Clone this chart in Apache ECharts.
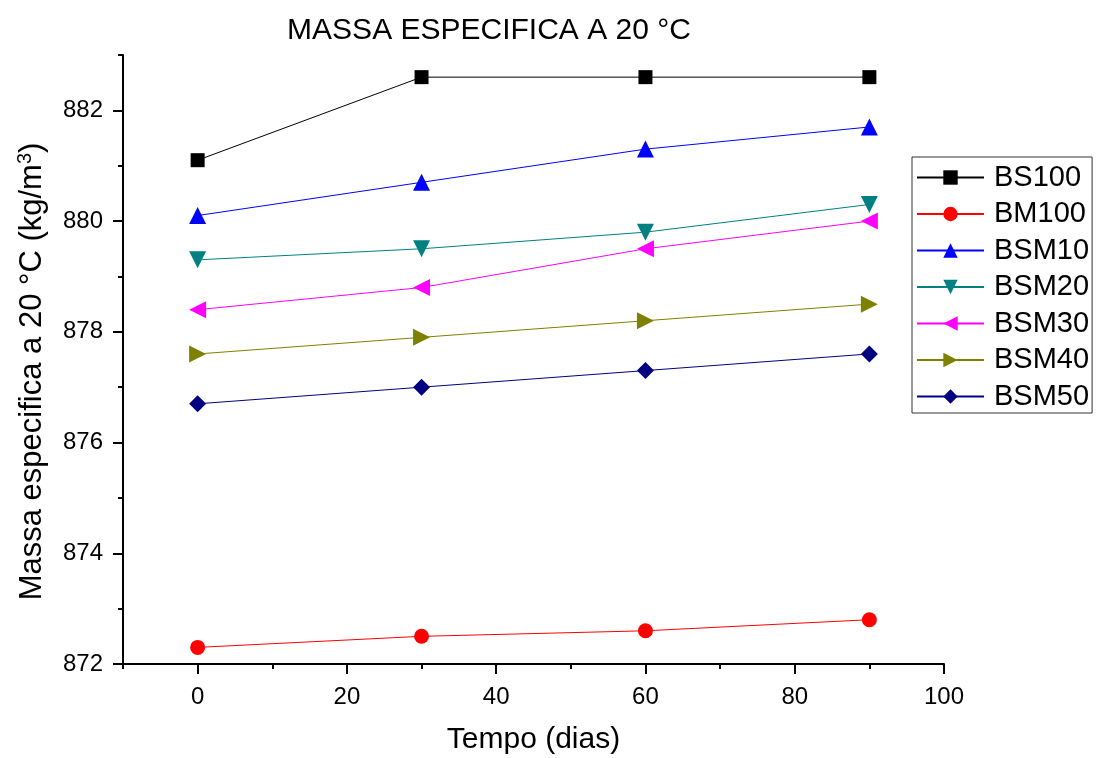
<!DOCTYPE html>
<html>
<head>
<meta charset="utf-8">
<script src="https://cdn.jsdelivr.net/npm/echarts@6/dist/echarts.min.js"></script>
<style>
  html, body { margin: 0; padding: 0; background: #fff; }
  #chart { width: 1099px; height: 758px; }
</style>
</head>
<body>
<div id="chart"></div>
<script>
const days = [0, 30, 60, 90]
const bs100 = [881.1, 882.6, 882.6, 882.6]
const bm100 = [872.3, 872.5, 872.6, 872.8]
const bsm10 = [880.1, 880.7, 881.3, 881.7]
const bsm20 = [879.3, 879.5, 879.8, 880.3]
const bsm30 = [878.4, 878.8, 879.5, 880.0]
const bsm40 = [877.6, 877.9, 878.2, 878.5]
const bsm50 = [876.7, 877.0, 877.3, 877.6]

const xMajor = [0, 20, 40, 60, 80, 100]
const xMinor = [-10, 10, 30, 50, 70, 90]
const yMajor = [872, 874, 876, 878, 880, 882]
const yMinor = [873, 875, 877, 879, 881, 883]

const font = 'Liberation Sans, Arial, sans-serif'

const pairs = (ys) => days.map((d, i) => [d, ys[i]])

const mk = (name, data, color, symbol, size, rotate) => ({
  name, type: 'line', data: pairs(data),
  xAxisIndex: 0, yAxisIndex: 0,
  symbol, symbolSize: size, symbolRotate: rotate || 0,
  lineStyle: { color, width: 1 },
  itemStyle: { color },
  emphasis: { disabled: true },
  z: 3,
})

const baseX = { type: 'value', min: -10, max: 100, gridIndex: 0 }
const baseY = { type: 'value', min: 872, max: 883, gridIndex: 0 }

var myChart = echarts.init(document.getElementById('chart'))
myChart.setOption({
  animation: false,
  title: {
    text: 'MASSA ESPECIFICA A 20 °C',
    left: 484, top: 11, textAlign: 'center',
    textStyle: { fontFamily: font, fontSize: 30, fontWeight: 'normal', color: '#000' },
  },
  grid: { left: 123, right: 155, top: 55, bottom: 94, outerBoundsMode: 'none', containLabel: false },
  legend: {
    orient: 'vertical', left: 912, top: 157,
    padding: [6, 3, 2, 4],
    borderColor: '#333', borderWidth: 1,
    itemWidth: 67, itemHeight: 18, itemGap: 7.5,
    textStyle: { fontFamily: font, fontSize: 29, lineHeight: 29, color: '#000', padding: [0, 0, 0, 5] },
    data: ['BS100', 'BM100', 'BSM10', 'BSM20', 'BSM30', 'BSM40', 'BSM50'],
  },
  xAxis: [
    {
      ...baseX,
      name: 'Tempo (dias)', nameLocation: 'middle', nameGap: 61,
      nameTextStyle: { fontFamily: font, fontSize: 30, color: '#000' },
      axisLine: { show: true, onZero: false, lineStyle: { color: '#000', width: 2 } },
      axisTick: { show: true, inside: false, length: 10, customValues: xMajor, lineStyle: { color: '#000', width: 2 } },
      axisLabel: { customValues: xMajor, margin: 21, fontFamily: font, fontSize: 24, color: '#000' },
      splitLine: { show: false },
    },
    {
      ...baseX,
      position: 'bottom',
      axisLine: { show: false, onZero: false },
      axisTick: { show: true, inside: false, length: 5, customValues: xMinor, lineStyle: { color: '#000', width: 2 } },
      axisLabel: { show: false },
      splitLine: { show: false },
    },
  ],
  yAxis: [
    {
      ...baseY,
      name: 'Massa especifica a 20 °C (kg/m{sup|3})', nameLocation: 'middle', nameGap: 74,
      nameTextStyle: {
        fontFamily: font, fontSize: 31, color: '#000', padding: [0, 24, 0, 0],
        rich: { sup: { fontFamily: font, fontSize: 20, color: '#000', verticalAlign: 'top', padding: [0, 0, 14, 0] } },
      },
      axisLine: { show: true, onZero: false, lineStyle: { color: '#000', width: 2 } },
      axisTick: { show: true, inside: false, length: 10, customValues: yMajor, lineStyle: { color: '#000', width: 2 } },
      axisLabel: { customValues: yMajor, margin: 20, fontFamily: font, fontSize: 24, color: '#000' },
      splitLine: { show: false },
    },
    {
      ...baseY,
      position: 'left',
      axisLine: { show: false, onZero: false },
      axisTick: { show: true, inside: false, length: 5, customValues: yMinor, lineStyle: { color: '#000', width: 2 } },
      axisLabel: { show: false },
      splitLine: { show: false },
    },
  ],
  series: [
    mk('BS100', bs100, '#000000', 'rect', 14),
    mk('BM100', bm100, '#FF0000', 'circle', 15),
    mk('BSM10', bsm10, '#0000FF', 'triangle', 17),
    mk('BSM20', bsm20, '#008080', 'triangle', 17, 180),
    mk('BSM30', bsm30, '#FF00FF', 'triangle', 17, 90),
    mk('BSM40', bsm40, '#808000', 'triangle', 17, -90),
    mk('BSM50', bsm50, '#000080', 'diamond', 17),
  ],
})
</script>
</body>
</html>
